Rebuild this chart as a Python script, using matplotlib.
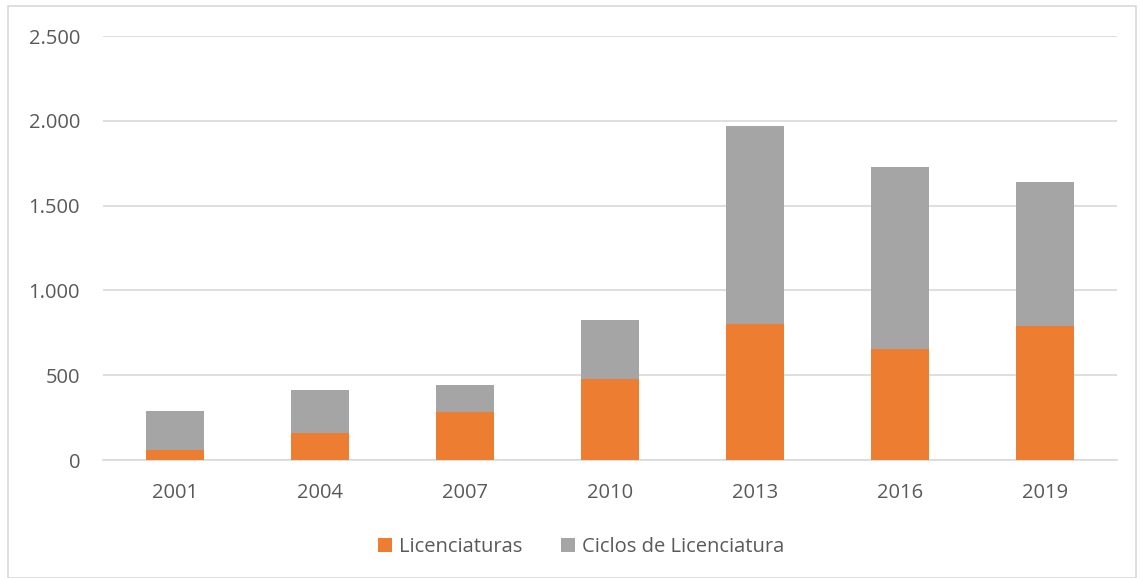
import matplotlib
matplotlib.use("Agg")
import matplotlib.pyplot as plt
from matplotlib.ticker import FuncFormatter
from matplotlib.patches import Rectangle

years = ["2001", "2004", "2007", "2010", "2013", "2016", "2019"]
licenciaturas = [59, 157, 284, 476, 804, 655, 792]
ciclos = [231, 253, 161, 348, 1165, 1070, 847]

plt.rcParams['font.family'] = ['Open Sans', 'DejaVu Sans']
text_color = "#595959"

fig = plt.figure(figsize=(11.41, 5.78), dpi=100)
ax = fig.add_axes([103/1141, 1 - 460/578, (1117-103)/1141, (460-36)/578])

x = list(range(len(years)))
ax.bar(x, licenciaturas, width=0.4, color="#ED7D31", label="Licenciaturas", zorder=3)
ax.bar(x, ciclos, width=0.4, bottom=licenciaturas, color="#A5A5A5",
       label="Ciclos de Licenciatura", zorder=3)

ax.set_xlim(-0.5, len(years) - 0.5)
ax.set_ylim(0, 2500)
ax.set_yticks([0, 500, 1000, 1500, 2000, 2500])
ax.yaxis.set_major_formatter(FuncFormatter(lambda v, p: f"{int(v):,}".replace(",", ".")))
ax.set_xticks(x)
ax.set_xticklabels(years)
ax.grid(axis="y", color="#D9D9D9", linewidth=1.2, zorder=0)
for s in ["top", "right", "left"]:
    ax.spines[s].set_visible(False)
ax.spines["bottom"].set_color("#D9D9D9")
ax.spines["bottom"].set_linewidth(1.2)
ax.tick_params(axis="both", length=0, labelsize=14.5, colors=text_color)
ax.tick_params(axis="y", pad=16.5)
ax.tick_params(axis="x", pad=16.5)

leg = fig.legend(loc="center", bbox_to_anchor=(581/1141, 1 - 547/578), ncol=2,
                 frameon=False, fontsize=14.5, handlelength=0.7, handleheight=0.7,
                 columnspacing=1.9, handletextpad=0.35)
for t in leg.get_texts():
    t.set_color(text_color)

fig.patches.append(Rectangle((8/1141, 0.0), (1136-8)/1141, 1 - 6/578,
                             transform=fig.transFigure, fill=False,
                             edgecolor="#D9D9D9", linewidth=1.2))

fig.savefig("out.png", dpi=100)
